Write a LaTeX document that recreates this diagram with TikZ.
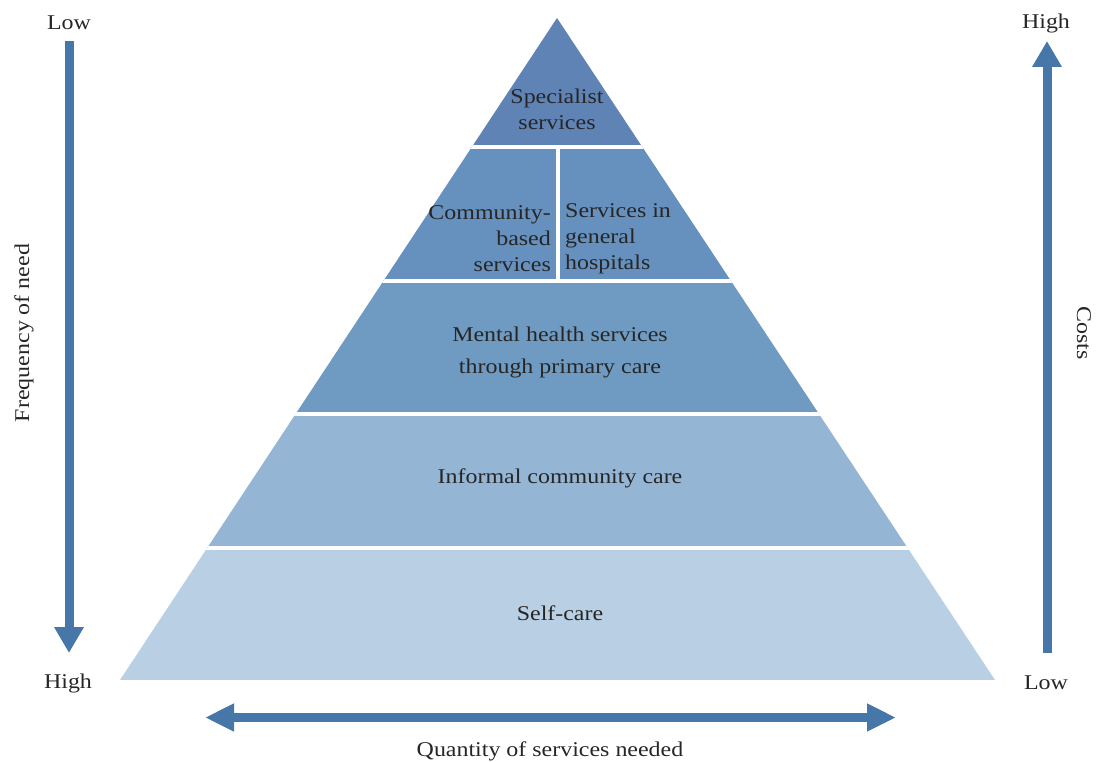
\documentclass[tikz,border=0pt]{standalone}
\usepackage{fontspec}
\setmainfont[FakeStretch=1.14]{Liberation Serif}
\usetikzlibrary{arrows.meta}
\definecolor{tierA}{RGB}{96,131,182}
\definecolor{tierB}{RGB}{102,144,189}
\definecolor{tierC}{RGB}{111,155,194}
\definecolor{tierD}{RGB}{148,182,212}
\definecolor{tierE}{RGB}{184,207,228}
\definecolor{arrowblue}{RGB}{70,119,168}
\definecolor{inktext}{RGB}{38,38,38}
\begin{document}
\begin{tikzpicture}[x=1pt,y=-1pt,
  lbl/.style={text=inktext,font=\fontsize{21}{26}\selectfont,inner sep=0pt},
  bigarrow/.style={draw=arrowblue,line width=9pt,-{Triangle[length=26pt,width=28pt]}},
  gap/.style={draw=white,line width=4pt}]
\useasboundingbox (0,0) rectangle (1102,762);

% pyramid tiers, clipped to the outer triangle
\coordinate (apex) at (557,18);
\coordinate (baseL) at (120,680);
\coordinate (baseR) at (995,680);
\begin{scope}
  \clip (apex) -- (baseL) -- (baseR) -- cycle;
  \fill[tierA] (100,0) rectangle (1000,147);
  \fill[tierB] (100,147) rectangle (1000,280.5);
  \fill[tierC] (100,280.5) rectangle (1000,414);
  \fill[tierD] (100,414) rectangle (1000,548);
  \fill[tierE] (100,548) rectangle (1000,680);
  \draw[gap] (100,147) -- (1000,147);
  \draw[gap] (100,280.5) -- (1000,280.5);
  \draw[gap] (100,414) -- (1000,414);
  \draw[gap] (100,548) -- (1000,548);
  \draw[gap] (557.5,147) -- (557.5,280.5);
\end{scope}

% tier labels
\node[lbl,align=center] (spec) at (557,109) {Specialist\\services};
\node[lbl,align=right,anchor=east] (comm) at (551,239) {Community-\\based\\services};
\node[lbl,align=left,anchor=west] (hosp) at (565,239) {Services in\\general\\hospitals};
\node[lbl,align=center] (prim) at (560,352) {Mental health services\\[6pt]through primary care};
\node[lbl] (inf) at (560,478.5) {Informal community care};
\node[lbl] (self) at (560,613) {Self-care};

% frequency axis (left)
\node[lbl] (fLow) at (69,23) {Low};
\node[lbl] (fHigh) at (68,683) {High};
\coordinate (fTop) at (69,41);
\coordinate (fBot) at (69,653);
\draw[bigarrow] (fTop) -- (fBot);
\node[lbl,rotate=90] (freq) at (24,333) {Frequency of need};

% cost axis (right)
\node[lbl] (cHigh) at (1046,23) {High};
\node[lbl] (cLow) at (1046,683) {Low};
\coordinate (cBot) at (1047,653);
\coordinate (cTop) at (1047,41);
\draw[bigarrow] (cBot) -- (cTop);
\node[lbl,rotate=-90] (cost) at (1084,333) {Costs};

% quantity axis (bottom)
\coordinate (qL) at (205,717.5);
\coordinate (qR) at (896,717.5);
\draw[bigarrow,{Triangle[length=29pt,width=26pt]}-{Triangle[length=29pt,width=26pt]}] (qL) -- (qR);
\node[lbl] (qty) at (550,751) {Quantity of services needed};
\end{tikzpicture}
\end{document}
